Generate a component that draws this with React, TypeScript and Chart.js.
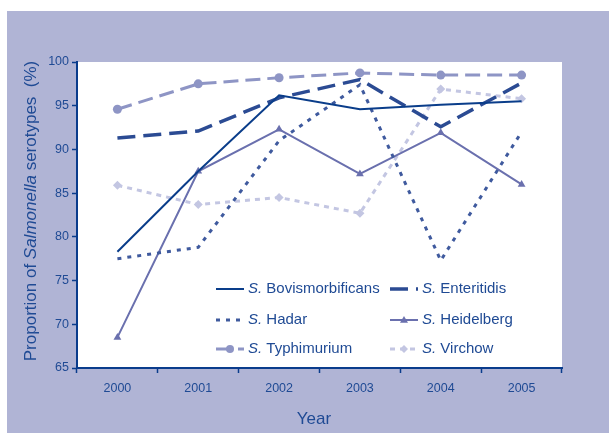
import React, { useEffect, useRef } from "react";
import { Chart, registerables } from "chart.js";

Chart.register(...registerables);

const years = ["2000", "2001", "2002", "2003", "2004", "2005"];
const bovismorbificans = [78.3, 87.5, 96.2, 94.6, 95.1, 95.5];
const enteritidis = [91.3, 92.1, 95.9, 98.0, 92.6, 97.6];
const hadar = [77.5, 78.8, 91.0, 97.4, 77.3, 92.0];
const heidelberg = [68.5, 87.5, 92.3, 87.2, 91.9, 86.0];
const typhimurium = [94.6, 97.5, 98.2, 98.75, 98.5, 98.5];
const virchow = [85.9, 83.7, 84.5, 82.7, 96.9, 95.8];

const serotypes = ["Bovismorbificans", "Enteritidis", "Hadar", "Heidelberg", "Typhimurium", "Virchow"];

const TEXT = "#1f4a94";
const AXIS = "#0a3c8c";
const FONT = "'Liberation Sans', Arial, sans-serif";

export default function App() {
  const ref = useRef<HTMLCanvasElement | null>(null);

  useEffect(() => {
    const canvas = ref.current!;
    const styles = [
      { color: "#0a3d8a", width: 2, dash: [] as number[], point: false as any, radius: 0 },
      { color: "#2b4b93", width: 3.5, dash: [18, 8], point: false as any, radius: 0 },
      { color: "#3f5a9e", width: 3, dash: [4, 6], point: false as any, radius: 0 },
      { color: "#6a70ae", width: 2, dash: [], point: "triangle", radius: 4.5 },
      { color: "#8e95c5", width: 3, dash: [15, 7], point: "circle", radius: 4.5 },
      { color: "#c3c6e2", width: 3, dash: [5, 5], point: "rectRot", radius: 4.5 },
    ];
    const values = [bovismorbificans, enteritidis, hadar, heidelberg, typhimurium, virchow];

    const deco = {
      id: "deco",
      beforeDraw(chart: any) {
        const ctx = chart.ctx;
        const ca = chart.chartArea;
        ctx.save();
        ctx.fillStyle = "#ffffff";
        ctx.fillRect(0, 0, chart.width, chart.height);
        ctx.fillStyle = "#b0b4d5";
        ctx.fillRect(7, 11, chart.width - 7, chart.height - 11);
        ctx.fillStyle = "#ffffff";
        ctx.fillRect(ca.left, ca.top, ca.right - ca.left, ca.bottom - ca.top);
        ctx.restore();
      },
      afterDraw(chart: any) {
        const ctx = chart.ctx;
        ctx.save();
        ctx.fillStyle = TEXT;
        ctx.font = `17px ${FONT}`;
        ctx.textAlign = "center";
        ctx.textBaseline = "middle";
        ctx.fillText("Year", 314, 419);
        ctx.translate(31, 211);
        ctx.rotate(-Math.PI / 2);
        const parts = [
          { t: "Proportion of ", f: `17px ${FONT}` },
          { t: "Salmonella", f: `italic 17px ${FONT}` },
          { t: " serotypes  (%)", f: `17px ${FONT}` },
        ];
        let total = 0;
        parts.forEach((p) => { ctx.font = p.f; total += ctx.measureText(p.t).width; });
        let x = -total / 2;
        ctx.textAlign = "left";
        parts.forEach((p) => { ctx.font = p.f; ctx.fillText(p.t, x, 0); x += ctx.measureText(p.t).width; });
        ctx.restore();

        ctx.save();
        const rows = [289, 320, 349];
        const cols = [216, 390];
        chart.data.datasets.forEach((ds: any, i: number) => {
          const r = Math.floor(i / 2);
          const c = i % 2;
          const y = rows[r];
          const x0 = cols[c];
          const x1 = x0 + 28;
          const st = styles[i];
          ctx.strokeStyle = st.color;
          ctx.lineWidth = st.width;
          ctx.setLineDash(st.dash);
          ctx.beginPath();
          ctx.moveTo(x0, y);
          ctx.lineTo(x1, y);
          ctx.stroke();
          ctx.setLineDash([]);
          if (st.point) {
            ctx.fillStyle = st.color;
            ctx.beginPath();
            const mx = (x0 + x1) / 2;
            const rr = 4;
            if (st.point === "circle") {
              ctx.arc(mx, y, rr, 0, Math.PI * 2);
            } else if (st.point === "triangle") {
              ctx.moveTo(mx, y - rr);
              ctx.lineTo(mx + rr, y + rr * 0.7);
              ctx.lineTo(mx - rr, y + rr * 0.7);
              ctx.closePath();
            } else {
              ctx.moveTo(mx, y - rr);
              ctx.lineTo(mx + rr, y);
              ctx.lineTo(mx, y + rr);
              ctx.lineTo(mx - rr, y);
              ctx.closePath();
            }
            ctx.fill();
          }
          ctx.fillStyle = TEXT;
          ctx.textBaseline = "middle";
          ctx.textAlign = "left";
          let tx = x1 + 4;
          ctx.font = `italic 15px ${FONT}`;
          ctx.fillText("S.", tx, y);
          tx += ctx.measureText("S.").width;
          ctx.font = `15px ${FONT}`;
          ctx.fillText(" " + serotypes[i], tx, y);
        });
        ctx.restore();
      },
    };

    const chart = new Chart(canvas, {
      type: "line",
      data: {
        labels: years,
        datasets: values.map((v, i) => ({
          label: "S. " + serotypes[i],
          data: v,
          borderColor: styles[i].color,
          backgroundColor: styles[i].color,
          borderWidth: styles[i].width,
          borderDash: styles[i].dash,
          pointStyle: styles[i].point || "circle",
          pointRadius: styles[i].radius,
          pointBorderWidth: 0,
          tension: 0,
          fill: false,
        })),
      },
      options: {
        responsive: false,
        animation: false,
        layout: { padding: { left: 0, top: 62, right: 47, bottom: 0 } },
        plugins: { legend: { display: false }, tooltip: { enabled: false } },
        scales: {
          x: {
            offset: true,
            grid: { offset: true, drawOnChartArea: false, drawTicks: true, tickLength: 5, tickColor: AXIS, tickWidth: 1.5 },
            border: { color: AXIS, width: 2 },
            ticks: { color: TEXT, font: { size: 12.5, family: FONT }, padding: 8, maxRotation: 0 },
            afterFit: (s: any) => { s.height = 65; },
          },
          y: {
            min: 65,
            max: 100,
            grid: { drawOnChartArea: false, drawTicks: true, tickLength: 5, tickColor: AXIS, tickWidth: 1.5 },
            border: { color: AXIS, width: 2 },
            ticks: { stepSize: 5, color: TEXT, font: { size: 12.5, family: FONT }, padding: 3 },
            afterFit: (s: any) => { s.width = 77; },
          },
        },
      },
      plugins: [deco],
    });
    return () => chart.destroy();
  }, []);

  return (
    <div style={{ position: "absolute", left: 0, top: 0, width: 609, height: 433 }}>
      <canvas ref={ref} width={609} height={433} style={{ display: "block" }} />
    </div>
  );
}
